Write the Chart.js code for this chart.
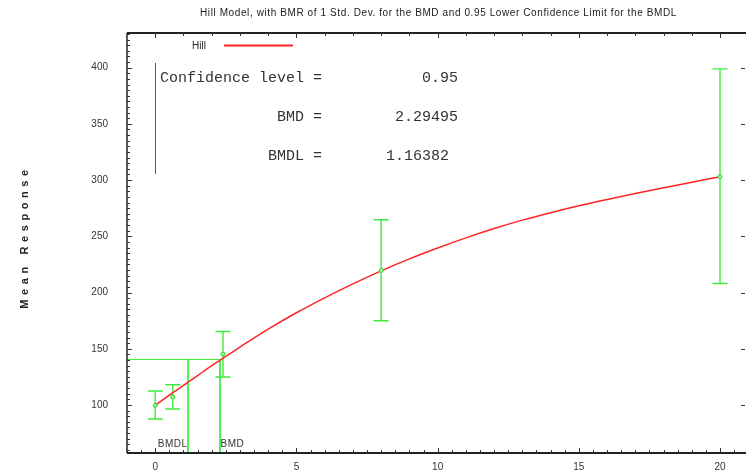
<!DOCTYPE html>
<html>
<head>
<meta charset="utf-8">
<script src="https://cdn.jsdelivr.net/npm/chart.js@4.4.0/dist/chart.umd.min.js"></script>
<style>
  html, body { margin: 0; padding: 0; background: #fff; }
  #wrap { width: 746px; height: 475px; }
</style>
</head>
<body>
<div id="wrap"><canvas id="myChart" width="746" height="475"></canvas></div>
<script>
// observed dose groups (mean +/- bar)
const doses = [0, 0.62, 2.4, 8, 20];
const means = [99.6, 107.1, 145.3, 219.6, 303.1];
const lower = [87.6, 96.4, 124.9, 174.9, 208.1];
const upper = [112.4, 118, 165.4, 264.7, 398.9];

// fitted Hill curve
const curveDose = [0, 0.5, 1, 1.5, 2, 2.5, 3, 4, 5, 6, 7, 8, 9, 10, 11, 12, 13, 14, 15, 16, 17, 18, 19, 20];
const curveResp = [99.8, 108.7, 117.5, 126.2, 134.9, 143.3, 151.5, 167.5, 182, 195.3, 207.7, 219.3, 229.9, 239.6, 248.6, 256.9, 264.4, 271, 277.1, 282.7, 288, 293.1, 298, 303];

const bmd = 2.29495;
const bmdl = 1.16382;
const bmdResponse = 140.5;

const xTicks = [0, 5, 10, 15, 20];
const yTicks = [100, 150, 200, 250, 300, 350, 400];
const xRange = [-1, 20.92];
const yRange = [57.3, 430.8];

const titleText = "Hill Model, with BMR of 1 Std. Dev. for the BMD and 0.95 Lower Confidence Limit for the BMDL";
const yTitle = "Mean Response";
const legendLabel = "Hill";
const infoLabels = ["Confidence level =", "BMD =", "BMDL ="];
const infoValues = ["0.95", "2.29495", "1.16382"];

const GREEN = "#3dec3d";
const RED = "#ff2424";

function pts(xs, ys) {
  return xs.map(function (v, i) { return { x: v, y: ys[i] }; });
}

// frame, inner ticks, error bars and all the annotation text
const decorations = {
  id: "decorations",
  beforeDatasetsDraw(chart) {
    const ctx = chart.ctx;
    const xs = chart.scales.x, ys = chart.scales.y;
    ctx.save();
    ctx.strokeStyle = GREEN;
    ctx.lineWidth = 1.4;
    for (let i = 0; i < doses.length; i++) {
      const px = xs.getPixelForValue(doses[i]);
      const t = ys.getPixelForValue(upper[i]);
      const b = ys.getPixelForValue(lower[i]);
      ctx.beginPath();
      ctx.moveTo(px, t); ctx.lineTo(px, b);
      ctx.moveTo(px - 7.5, t); ctx.lineTo(px + 7.5, t);
      ctx.moveTo(px - 7.5, b); ctx.lineTo(px + 7.5, b);
      ctx.stroke();
    }
    ctx.restore();
  },
  afterDraw(chart) {
    const ctx = chart.ctx;
    const a = chart.chartArea;
    const xs = chart.scales.x, ys = chart.scales.y;
    ctx.save();

    // axes frame
    ctx.strokeStyle = "#222";
    ctx.lineWidth = 2;
    ctx.beginPath();
    ctx.moveTo(a.left, a.top); ctx.lineTo(a.right, a.top);
    ctx.moveTo(a.left, a.bottom); ctx.lineTo(a.right, a.bottom);
    ctx.stroke();
    ctx.lineWidth = 1.5;
    ctx.beginPath();
    ctx.moveTo(a.left, a.top); ctx.lineTo(a.left, a.bottom);
    ctx.stroke();

    // inner tick marks
    ctx.lineWidth = 1;
    ctx.strokeStyle = "#333";
    ctx.beginPath();
    for (let k = -2; k <= 41; k++) {  // bottom, every 0.5
      const px = Math.round(xs.getPixelForValue(k / 2)) + 0.5;
      const len = (k % 10 === 0) ? 5 : 3;
      ctx.moveTo(px, a.bottom); ctx.lineTo(px, a.bottom - len);
    }
    for (let k = 0; k <= 20; k++) {  // top, every 1
      const px = Math.round(xs.getPixelForValue(k)) + 0.5;
      const len = (k % 5 === 0) ? 5 : 3;
      ctx.moveTo(px, a.top); ctx.lineTo(px, a.top + len);
    }
    for (let v = 60; v <= 430; v += 5) {  // left, every 5
      const py = Math.round(ys.getPixelForValue(v)) + 0.5;
      const len = (v % 50 === 0) ? 5 : 3;
      ctx.moveTo(a.left, py); ctx.lineTo(a.left + len, py);
    }
    yTicks.forEach(function (v) {  // right, majors only
      const py = Math.round(ys.getPixelForValue(v)) + 0.5;
      ctx.moveTo(a.right - 1, py); ctx.lineTo(a.right - 5, py);
    });
    ctx.stroke();

    // title
    ctx.fillStyle = "#222";
    ctx.font = '10px "Liberation Sans", Arial, sans-serif';
    ctx.textAlign = "left";
    ctx.textBaseline = "middle";
    ctx.letterSpacing = "0.6px";
    ctx.fillText(titleText, 200, 13);
    ctx.letterSpacing = "0px";

    // y axis title
    ctx.save();
    ctx.translate(25, 239);
    ctx.rotate(-Math.PI / 2);
    ctx.textAlign = "center";
    ctx.font = 'bold 11px "Liberation Sans", Arial, sans-serif';
    ctx.letterSpacing = "4.6px";
    ctx.fillText(yTitle, 2, 0);
    ctx.restore();

    // legend
    ctx.font = '10px "Liberation Sans", Arial, sans-serif';
    ctx.textAlign = "left";
    ctx.fillText(legendLabel, 192, 46);
    ctx.strokeStyle = RED;
    ctx.lineWidth = 2;
    ctx.beginPath();
    ctx.moveTo(224, 45.5); ctx.lineTo(293, 45.5);
    ctx.stroke();

    // info box
    ctx.strokeStyle = "#555";
    ctx.lineWidth = 1;
    ctx.beginPath();
    ctx.moveTo(155.5, 63); ctx.lineTo(155.5, 174);
    ctx.stroke();
    ctx.font = '15px "Liberation Mono", "DejaVu Sans Mono", monospace';
    ctx.fillStyle = "#333";
    ctx.textBaseline = "alphabetic";
    const rows = [81.5, 121, 160];
    const valRight = [458, 458, 449];
    for (let i = 0; i < infoLabels.length; i++) {
      ctx.textAlign = "right";
      ctx.fillText(infoLabels[i], 322, rows[i]);
      ctx.fillText(infoValues[i], valRight[i], rows[i]);
    }

    // BMD / BMDL labels
    ctx.font = '10px "Liberation Sans", Arial, sans-serif';
    ctx.fillStyle = "#333";
    ctx.textBaseline = "middle";
    ctx.letterSpacing = "0.5px";
    ctx.textAlign = "right";
    ctx.fillText("BMDL", xs.getPixelForValue(bmdl) - 0.5, 444);
    ctx.textAlign = "left";
    ctx.fillText("BMD", xs.getPixelForValue(bmd) + 0.5, 444);
    ctx.restore();
  }
};

const ctx = document.getElementById("myChart").getContext("2d");
const myChart = new Chart(ctx, {
  type: "scatter",
  data: {
    datasets: [
      {
        label: "means",
        data: pts(doses, means),
        pointRadius: 2,
        pointBackgroundColor: "#9f9",
        pointBorderColor: "#2cd82c",
        pointBorderWidth: 1,
        showLine: false,
        order: 0,
      },
      {
        label: legendLabel,
        data: pts(curveDose, curveResp),
        showLine: true,
        borderColor: RED,
        borderWidth: 1.5,
        pointRadius: 0,
        cubicInterpolationMode: "monotone",
        order: 1,
      },
      {
        label: "bmr",
        data: pts([xRange[0], bmd], [bmdResponse, bmdResponse]),
        showLine: true,
        borderColor: GREEN,
        borderWidth: 1,
        pointRadius: 0,
        order: 3,
      },
      {
        label: "bmd",
        data: pts([bmd, bmd], [bmdResponse, yRange[0]]),
        showLine: true,
        borderColor: GREEN,
        borderWidth: 1,
        pointRadius: 0,
        order: 3,
      },
      {
        label: "bmdl",
        data: pts([bmdl, bmdl], [bmdResponse, yRange[0]]),
        showLine: true,
        borderColor: GREEN,
        borderWidth: 1,
        pointRadius: 0,
        order: 3,
      },
    ],
  },
  options: {
    responsive: false,
    animation: false,
    devicePixelRatio: 1,
    layout: { autoPadding: false, padding: { top: 33, left: 0, right: 0, bottom: 0 } },
    plugins: {
      legend: { display: false },
      tooltip: { enabled: false },
      title: { display: false },
    },
    scales: {
      x: {
        type: "linear",
        min: xRange[0],
        max: xRange[1],
        grid: { display: false, drawTicks: false },
        border: { display: false },
        ticks: { color: "#333", font: { size: 10, family: "'Liberation Sans', Arial" }, padding: 8, maxRotation: 0 },
        afterBuildTicks: function (s) { s.ticks = xTicks.map(function (v) { return { value: v }; }); },
        afterFit: function (s) { s.height = 22; s.paddingLeft = 0; s.paddingRight = 0; },
      },
      y: {
        type: "linear",
        min: yRange[0],
        max: yRange[1],
        grid: { display: false, drawTicks: false },
        border: { display: false },
        ticks: { color: "#333", font: { size: 10, family: "'Liberation Sans', Arial" }, padding: 19 },
        afterBuildTicks: function (s) { s.ticks = yTicks.map(function (v) { return { value: v }; }); },
        afterFit: function (s) { s.width = 127; s.paddingTop = 0; s.paddingBottom = 0; },
      },
    },
  },
  plugins: [decorations],
});
</script>
</body>
</html>
